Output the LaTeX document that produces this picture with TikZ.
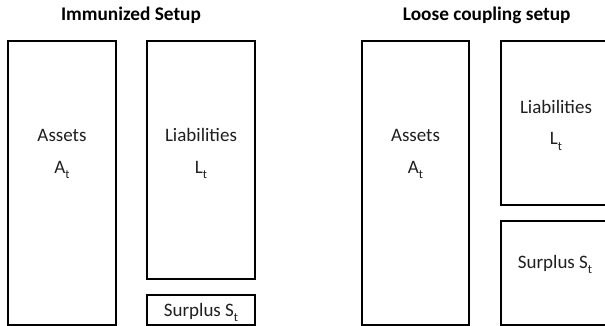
\documentclass[tikz,border=0pt]{standalone}
\usepackage{fontspec}
\setmainfont{Carlito}
\tikzset{
  block/.style={draw=black, line width=2pt},
  lbl/.style={anchor=base, inner sep=0pt, text=black!88, font=\fontsize{19}{22}\selectfont},
  title/.style={anchor=base, inner sep=0pt, font=\bfseries\fontsize{19.3}{22}\selectfont}
}
% lowered subscript letter
\newcommand\lsub[1]{\raisebox{-0.27em}{\fontsize{12.5}{12.5}\selectfont #1}}
\begin{document}
\begin{tikzpicture}[x=1pt,y=-1pt]
  \useasboundingbox (0,0) rectangle (605,326);

  % Immunized setup
  \node[title] (t1) at (131,20.7) {Immunized Setup};
  \draw[block] (8,41) rectangle (116,325);
  \draw[block] (147,41) rectangle (255,279);
  \draw[block] (147,295) rectangle (255,325);
  \node[lbl] (a1) at (62,141.7) {Assets};
  \node[lbl] (a1s) at (62,173) {A\lsub{t}};
  \node[lbl] (l1) at (201,141.7) {Liabilities};
  \node[lbl] (l1s) at (201,173) {L\lsub{t}};
  \node[lbl] (s1) at (201,316.7) {Surplus S\lsub{t}};

  % Loose coupling setup
  \node[title] (t2) at (486.7,20.7) {Loose coupling setup};
  \draw[block] (362,41) rectangle (469,325);
  \draw[block] (501,41) rectangle (612,205);
  \draw[block] (501,221) rectangle (612,325);
  \node[lbl] (a2) at (415.5,141.7) {Assets};
  \node[lbl] (a2s) at (415.5,173.3) {A\lsub{t}};
  \node[lbl] (l2) at (556,114) {Liabilities};
  \node[lbl] (l2s) at (556,145) {L\lsub{t}};
  \node[lbl] (s2) at (555,268.3) {Surplus S\lsub{t}};
\end{tikzpicture}
\end{document}
